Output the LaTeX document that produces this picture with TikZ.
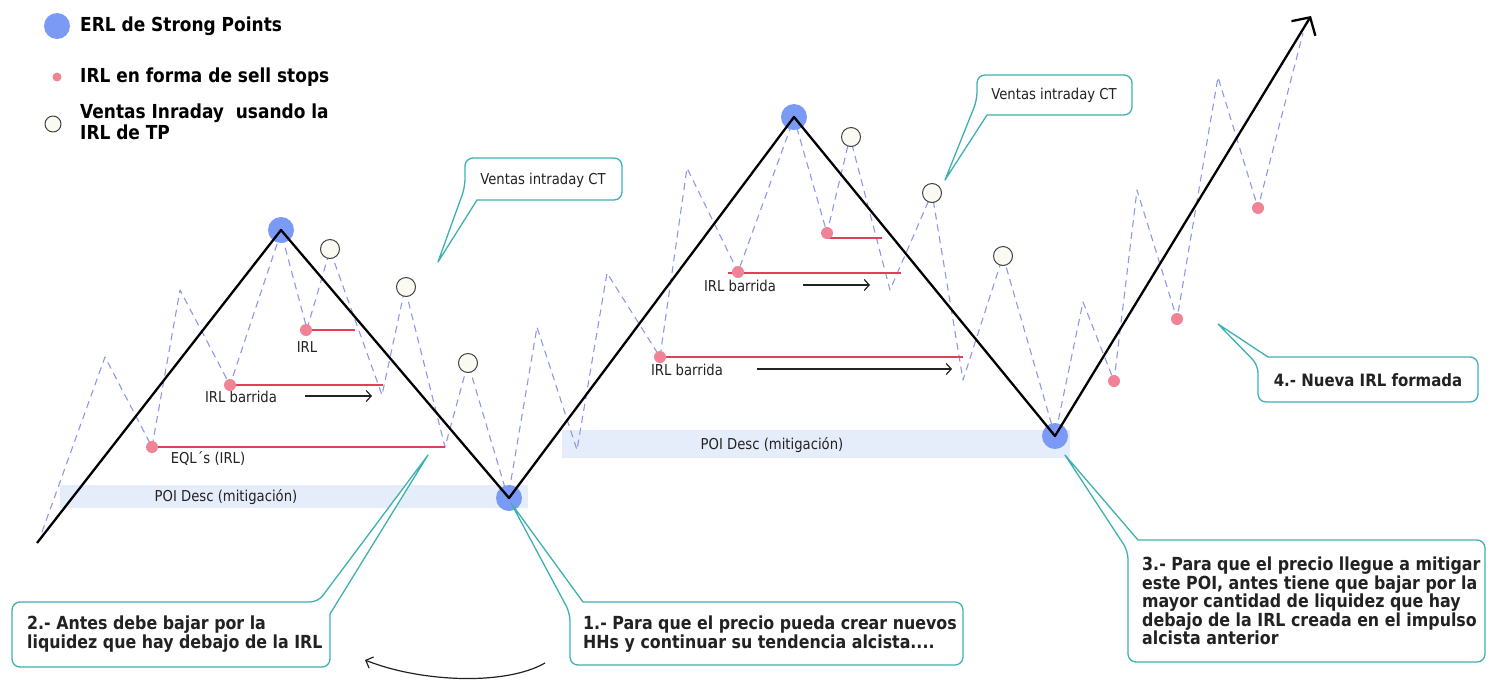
\documentclass[tikz,border=0pt]{standalone}
\usepackage{fontspec}
\setmainfont{DejaVu Sans}[FakeStretch=0.88]
\usetikzlibrary{arrows.meta}
\definecolor{erlc}{RGB}{122,154,245}
\definecolor{pinkc}{RGB}{240,132,150}
\definecolor{redl}{RGB}{226,64,90}
\definecolor{dashc}{RGB}{140,152,236}
\definecolor{tealc}{RGB}{62,176,176}
\definecolor{poic}{RGB}{229,236,250}
\definecolor{txt}{RGB}{34,34,34}
\definecolor{ocfill}{RGB}{250,250,242}
\begin{document}
\begin{tikzpicture}[x=1pt,y=-1pt,line join=round,
  erl/.style={circle,fill=erlc,minimum size=26pt,inner sep=0pt},
  pdot/.style={circle,fill=pinkc,minimum size=12pt,inner sep=0pt},
  ocirc/.style={circle,draw=black!75,fill=ocfill,line width=1pt,minimum size=19pt,inner sep=0pt},
  mainline/.style={line width=2.3pt,black},
  dsh/.style={dashc,line width=1.1pt,dash pattern=on 7pt off 5pt},
  redline/.style={redl,line width=1.1pt},
  barb/.style={txt,line width=1.2pt,-{Straight Barb[length=5pt,width=11pt]}},
  lbl/.style={font=\fontsize{15}{17}\selectfont,text=txt,inner sep=0pt},
  co/.style={draw=tealc,line width=1.3pt,fill=white},
  cotext/.style={font=\fontsize{18}{16.8}\selectfont\bfseries,text=txt,inner sep=0pt,align=left},
  legtext/.style={font=\fontsize{19.3}{21}\selectfont\bfseries,text=black,inner sep=0pt,align=left,anchor=west}]
\useasboundingbox (0,0) rectangle (1491,681);

% POI bands
\fill[poic] (60,485) rectangle (528,508);
\fill[poic] (562,430) rectangle (1070,458);
\node[lbl] (poi1) at (226,497) {POI Desc (mitigación)};
\node[lbl] (poi2) at (772,445) {POI Desc (mitigación)};

% dashed price path
\foreach [count=\i from 0] \x/\y in {42/532,105/357,152/447,180/290,230/385,281/232,307/329,330/250,382/395,405/288,445/447,468/363,508/498,537/327,577/450,607/273,660/357,687/168,738/272,794/118,827/233,850/137,890/290,932/193,963/380,1003/256,1055/436,1083/302,1114/381,1137/190,1177/319,1218/77,1258/208,1303/33}
  {\coordinate (d\i) at (\x,\y);}
\draw[dsh] (d0) \foreach \i in {1,...,33}{ -- (d\i)};

% pink dot positions
\coordinate (q1) at (152,447);
\coordinate (q2) at (230,385);
\coordinate (q3) at (306,330);
\coordinate (q4) at (660,357);
\coordinate (q5) at (738,272);
\coordinate (q6) at (827,233);
\coordinate (q7) at (1114,381);
\coordinate (q8) at (1177,319);
\coordinate (q9) at (1258,208);

% red IRL lines
\coordinate (r1) at (445,447);
\coordinate (r2) at (383,385);
\coordinate (r3) at (355,330);
\coordinate (r4) at (963,357);
\coordinate (r5a) at (728,273);
\coordinate (r5) at (901,273);
\coordinate (r6a) at (827,238);
\coordinate (r6) at (882,238);
\draw[redline] (q1) -- (r1);
\draw[redline] (q2) -- (r2);
\draw[redline] (q3) -- (r3);
\draw[redline] (q4) -- (r4);
\draw[redline] (r5a) -- (r5);
\draw[redline] (r6a) -- (r6);

% labels and arrows
\node[lbl] (lirl) at (307,347) {IRL};
\node[lbl] (lb1) at (241,397) {IRL barrida};
\node[lbl] (leql) at (208,458) {EQL´s (IRL)};
\node[lbl] (lb2) at (740,286) {IRL barrida};
\node[lbl] (lb3) at (687,370) {IRL barrida};
\coordinate (a1s) at (305,396); \coordinate (a1e) at (372,396);
\coordinate (a2s) at (803,285); \coordinate (a2e) at (870,285);
\coordinate (a3s) at (757,369); \coordinate (a3e) at (952,369);
\draw[barb] (a1s) -- (a1e);
\draw[barb] (a2s) -- (a2e);
\draw[barb] (a3s) -- (a3e);

% ERL circles
\node[erl] (e1) at (281,230) {};
\node[erl] (e2) at (509,498) {};
\node[erl] (e3) at (794,117) {};
\node[erl] (e4) at (1055,436) {};

% main structure line
\coordinate (mstart) at (37,543);
\coordinate (mtip) at (1311,16);
\draw[mainline,-{Straight Barb[length=13pt,width=28pt]}] (mstart) -- (e1.center) -- (e2.center) -- (e3.center) -- (e4.center) -- (mtip);

% pink dots
\foreach \i in {1,...,9}{\node[pdot] (p\i) at (q\i) {};}

% open circles
\node[ocirc] (o1) at (330,249) {};
\node[ocirc] (o2) at (406,287) {};
\node[ocirc] (o3) at (468,363) {};
\node[ocirc] (o4) at (851,137) {};
\node[ocirc] (o5) at (932,193) {};
\node[ocirc] (o6) at (1003,256) {};

% callouts
\draw[co] (477,200) [rounded corners=8pt] -- (622,200) -- (622,158) -- (465,158) -- (465,187) [sharp corners] -- (438,262) -- cycle;
\node[lbl] (v1) at (543,180) {Ventas intraday CT};
\draw[co] (987,115) [rounded corners=8pt] -- (1132,115) -- (1132,75) -- (977,75) -- (977,100) [sharp corners] -- (945,180) -- cycle;
\node[lbl] (v2) at (1054,95) {Ventas intraday CT};
\draw[co] (1268,357) [rounded corners=8pt] -- (1478,357) -- (1478,402) -- (1258,402) -- (1258,365) [sharp corners] -- (1218,324) -- cycle;
\node[cotext,font=\fontsize{17}{17}\selectfont\bfseries] (t4) at (1368,380) {4.- Nueva IRL formada};
\draw[co] (330,614) [rounded corners=8pt] -- (330,667) -- (12,667) -- (12,602) -- (318,602) [sharp corners] -- (428,455) -- cycle;
\node[cotext,anchor=west] (t2) at (27,634) {2.- Antes debe bajar por la\\liquidez que hay debajo de la IRL};
\draw[co] (583,602) [rounded corners=8pt] -- (963,602) -- (963,665) -- (570,665) -- (570,613) [sharp corners] -- (511,503) -- cycle;
\node[cotext,anchor=west] (t1) at (583,634) {1.- Para que el precio pueda crear nuevos\\HHs y continuar su tendencia alcista....};
\draw[co] (1138,540) [rounded corners=8pt] -- (1485,540) -- (1485,662) -- (1128,662) -- (1128,551) [sharp corners] -- (1065,455) -- cycle;
\node[cotext,anchor=west] (t3) at (1142,601) {3.- Para que el precio llegue a mitigar\\este POI, antes tiene que bajar por la\\mayor cantidad de liquidez que hay\\debajo de la IRL creada en el impulso\\alcista anterior};

% curved arrow
\coordinate (ca) at (545,663);
\coordinate (cb) at (365,660);
\draw[barb,-{Straight Barb[length=6pt,width=12pt]}] (ca) .. controls (505,686) and (420,682) .. (cb);

% legend
\node[erl] (le) at (57,26) {};
\node[legtext] (lt1) at (80,26) {ERL de Strong Points};
\node[pdot,minimum size=9pt] (lp) at (57,77) {};
\node[legtext] (lt2) at (80,77) {IRL en forma de sell stops};
\node[ocirc,minimum size=16pt] (lo) at (53,124) {};
\node[legtext] (lt3) at (80,122) {Ventas Inraday\ \ usando la\\IRL de TP};
\end{tikzpicture}
\end{document}
